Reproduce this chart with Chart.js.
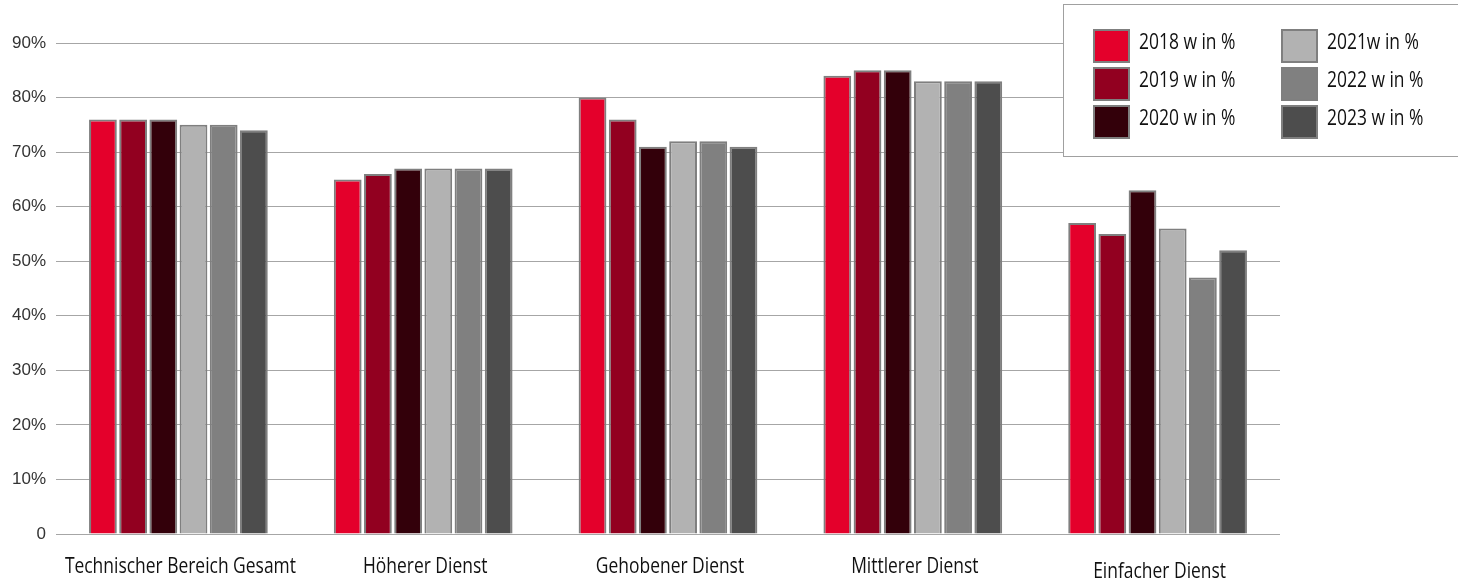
<!DOCTYPE html>
<html>
<head>
<meta charset="utf-8">
<script src="https://cdn.jsdelivr.net/npm/chart.js@4/dist/chart.umd.min.js"></script>
<style>
  body { margin: 0; background: #fff; }
  canvas { display: block; }
</style>
</head>
<body>
<canvas id="barChart" width="1458" height="583"></canvas>
<script>
var categories = ["Technischer Bereich Gesamt", "Höherer Dienst", "Gehobener Dienst", "Mittlerer Dienst", "Einfacher Dienst"];
var seriesLabels = ["2018 w in %", "2019 w in %", "2020 w in %", "2021w in %", "2022 w in %", "2023 w in %"];
var seriesColors = ["#e4002b", "#920020", "#33000a", "#b2b2b2", "#808080", "#4d4d4d"];
var values2018 = [76, 65, 80, 84, 57];
var values2019 = [76, 66, 76, 85, 55];
var values2020 = [76, 67, 71, 85, 63];
var values2021 = [75, 67, 72, 83, 56];
var values2022 = [75, 67, 72, 83, 47];
var values2023 = [74, 67, 71, 83, 52];
// the last category name sits a little lower than the others
var labelDrop = [0, 0, 0, 0, 5];

var allValues = [values2018, values2019, values2020, values2021, values2022, values2023];
var labelFont = "21px 'Open Sans', sans-serif";
var squeeze = 0.83;

// condensed-looking text: squash the font horizontally
function narrowText(ctx, text, x, y, align) {
    ctx.save();
    ctx.translate(x, y);
    ctx.scale(squeeze, 1);
    ctx.textAlign = align;
    ctx.fillText(text, 0, 0);
    ctx.restore();
}

// category names drawn under the groups
var categoryLabels = {
    id: 'categoryLabels',
    afterDraw: function(chart) {
        var ctx = chart.ctx;
        var xs = chart.scales.x;
        ctx.save();
        ctx.font = labelFont;
        ctx.fillStyle = "#111";
        ctx.textBaseline = "middle";
        categories.forEach(function(name, i) {
            narrowText(ctx, name, xs.getPixelForValue(i) + 2, 567 + labelDrop[i], "center");
        });
        ctx.restore();
    }
};

// boxed two-column legend in the top right corner
var boxLegend = {
    id: 'boxLegend',
    afterDraw: function(chart) {
        var ctx = chart.ctx;
        ctx.save();
        ctx.fillStyle = "#fff";
        ctx.fillRect(1063, 4, 400, 153);
        ctx.strokeStyle = "#a0a0a0";
        ctx.lineWidth = 1;
        ctx.strokeRect(1063.5, 4.5, 400, 152);
        ctx.font = labelFont;
        ctx.textBaseline = "middle";
        chart.data.datasets.forEach(function(ds, i) {
            var col = Math.floor(i / 3), row = i % 3;
            var x = 1094 + col * 188, y = 30 + row * 38;
            ctx.fillStyle = ds.backgroundColor;
            ctx.fillRect(x, y, 35, 32);
            ctx.strokeStyle = "#7f7f7f";
            ctx.lineWidth = 2;
            ctx.strokeRect(x, y, 35, 32);
            ctx.fillStyle = "#111";
            narrowText(ctx, ds.label, x + 45, y + 13, "left");
        });
        ctx.restore();
    }
};

var ctxB = document.getElementById("barChart").getContext('2d');
var myBarChart = new Chart(ctxB, {
    type: 'bar',
    data: {
        labels: categories,
        datasets: seriesLabels.map(function(label, i) {
            return {
                label: label,
                data: allValues[i],
                backgroundColor: seriesColors[i],
                borderColor: "#7f7f7f",
                borderWidth: 2,
                barPercentage: 0.92,
                categoryPercentage: 0.74
            };
        })
    },
    options: {
        responsive: false,
        animation: false,
        layout: { padding: { top: 43, right: 178, bottom: 49, left: 0 } },
        plugins: {
            legend: { display: false },
            tooltip: { enabled: false }
        },
        scales: {
            x: {
                grid: { display: false },
                border: { display: false },
                ticks: { display: false },
                afterFit: function(scale) { scale.height = 0; }
            },
            y: {
                min: 0,
                max: 90,
                ticks: {
                    stepSize: 10,
                    padding: 10,
                    color: "#333",
                    font: { family: "'Liberation Sans', Arial, sans-serif", size: 17 },
                    callback: function(v) { return v === 0 ? "0" : v + "%"; }
                },
                grid: { color: "#a6a6a6", lineWidth: 1, drawTicks: false },
                border: { display: false },
                afterFit: function(scale) { scale.width = 56; }
            }
        }
    },
    plugins: [categoryLabels, boxLegend]
});
</script>
</body>
</html>
